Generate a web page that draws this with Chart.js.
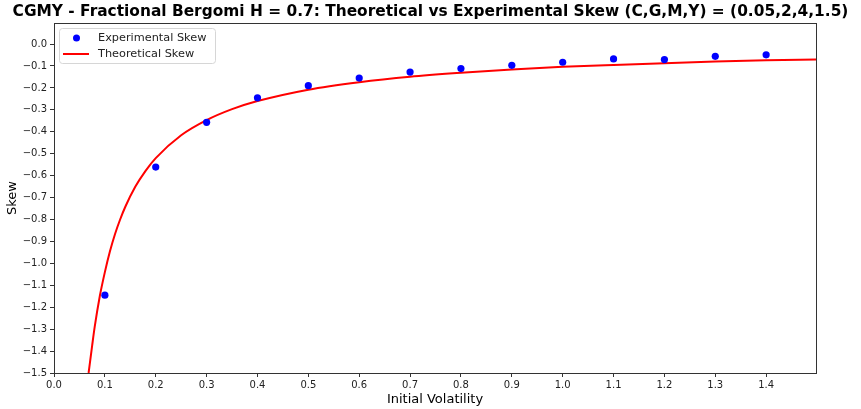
<!DOCTYPE html>
<html>
<head>
<meta charset="utf-8">
<script src="https://cdn.jsdelivr.net/npm/chart.js@4"></script>
<style>
  html, body { margin: 0; padding: 0; background: #fff; }
  #wrap { width: 861px; height: 409px; position: relative; }
</style>
</head>
<body>
<div id="wrap"><canvas id="skewChart" width="861" height="409"></canvas></div>
<script>
// experimental points
const expVol = [0.1, 0.2, 0.3, 0.4, 0.5, 0.6, 0.7, 0.8, 0.9, 1.0, 1.1, 1.2, 1.3, 1.4];
const expSkew = [-1.145, -0.561, -0.357, -0.245, -0.19, -0.155, -0.128, -0.112, -0.097, -0.083, -0.068, -0.071, -0.056, -0.049];

// theoretical curve
const theoVol = [0.068, 0.075, 0.08, 0.09, 0.1, 0.11, 0.12, 0.13, 0.14, 0.16, 0.18, 0.2, 0.25, 0.3, 0.35, 0.4, 0.5, 0.6, 0.7, 0.8, 0.9, 1.0, 1.1, 1.2, 1.3, 1.4, 1.5];
const theoSkew = [-1.5, -1.375, -1.29, -1.15, -1.04, -0.945, -0.866, -0.8, -0.743, -0.65, -0.578, -0.52, -0.416, -0.347, -0.297, -0.26, -0.208, -0.174, -0.149, -0.131, -0.116, -0.104, -0.095, -0.087, -0.08, -0.074, -0.07];

const xTicks = [0.0, 0.1, 0.2, 0.3, 0.4, 0.5, 0.6, 0.7, 0.8, 0.9, 1.0, 1.1, 1.2, 1.3, 1.4];
const yTicks = [-1.5, -1.4, -1.3, -1.2, -1.1, -1.0, -0.9, -0.8, -0.7, -0.6, -0.5, -0.4, -0.3, -0.2, -0.1, 0.0];

const titleText = 'CGMY - Fractional Bergomi H = 0.7: Theoretical vs Experimental Skew (C,G,M,Y) = (0.05,2,4,1.5)';

const FONT = "'DejaVu Sans', sans-serif";

function fmt(v) {
  const s = Math.abs(v).toFixed(1);
  return v < -1e-9 ? '\u2212' + s : s;
}

// box round the plot, title and legend, like matplotlib
const framePlugin = {
  id: 'frame',
  afterDraw(chart) {
    const a = chart.chartArea;
    const c = chart.ctx;
    c.save();
    c.strokeStyle = '#333';
    c.lineWidth = 1;
    c.strokeRect(Math.round(a.left) + 0.5, Math.round(a.top) + 0.5, Math.round(a.right - a.left), Math.round(a.bottom - a.top));

    // title, centred on the figure
    c.fillStyle = '#000';
    c.font = 'bold 15.4px ' + FONT;
    c.textAlign = 'center';
    c.textBaseline = 'middle';
    c.fillText(titleText, 430.5, 12);
    c.textAlign = 'left';

    // legend
    const lx = a.left + 5, ly = a.top + 5, lw = 156, lh = 35;
    c.fillStyle = 'rgba(255,255,255,0.8)';
    c.strokeStyle = '#d6d6d6';
    c.beginPath();
    c.roundRect(lx + 0.5, ly + 0.5, lw, lh, 3);
    c.fill();
    c.stroke();

    c.fillStyle = '#0000ff';
    c.beginPath();
    c.arc(lx + 17.5, ly + 10, 3.5, 0, Math.PI * 2);
    c.fill();

    c.strokeStyle = '#ff0000';
    c.lineWidth = 2;
    c.beginPath();
    c.moveTo(lx + 4, ly + 26);
    c.lineTo(lx + 30, ly + 26);
    c.stroke();

    c.fillStyle = '#222';
    c.font = '11.3px ' + FONT;
    c.textBaseline = 'middle';
    c.fillText('Experimental Skew', lx + 39, ly + 10);
    c.fillText('Theoretical Skew', lx + 39, ly + 26);
    c.restore();
  }
};

const ctx = document.getElementById('skewChart');
new Chart(ctx.getContext('2d'), {
  type: 'scatter',
  data: {
    datasets: [{
      label: 'Experimental Skew',
      data: expVol.map((x, i) => ({ x: x, y: expSkew[i] })),
      backgroundColor: '#0000ff',
      borderColor: '#0000ff',
      pointRadius: 3.6,
      pointBorderWidth: 0,
      order: 1
    }, {
      label: 'Theoretical Skew',
      type: 'line',
      data: theoVol.map((x, i) => ({ x: x, y: theoSkew[i] })),
      borderColor: '#ff0000',
      borderWidth: 2,
      pointRadius: 0,
      fill: false,
      cubicInterpolationMode: 'monotone',
      clip: { left: 0, right: 0, top: 0, bottom: 0 },
      order: 2
    }]
  },
  options: {
    responsive: false,
    animation: false,
    layout: { padding: { left: 0, right: 45, top: 23, bottom: 0 } },
    plugins: {
      legend: { display: false },
      tooltip: { enabled: false },
      title: { display: false }
    },
    scales: {
      x: {
        type: 'linear',
        min: 0,
        max: 1.498,
        afterBuildTicks: function(axis) {
          axis.ticks = xTicks.map(v => ({ value: v }));
        },
        afterFit: function(axis) { axis.height = 36; },
        ticks: {
          color: '#222',
          font: { family: FONT, size: 10 },
          padding: 2,
          maxRotation: 0,
          autoSkip: false,
          callback: v => fmt(v)
        },
        grid: { display: true, drawOnChartArea: false, drawTicks: true, tickLength: 4, color: '#333' },
        border: { display: false },
        title: {
          display: true,
          text: 'Initial Volatility',
          color: '#000',
          font: { family: FONT, size: 13 },
          padding: { top: 0, bottom: 2 }
        }
      },
      y: {
        type: 'linear',
        min: -1.5,
        max: 0.096,
        afterBuildTicks: function(axis) {
          axis.ticks = yTicks.map(v => ({ value: v }));
        },
        afterFit: function(axis) { axis.width = 54; },
        ticks: {
          color: '#222',
          font: { family: FONT, size: 10 },
          padding: 3,
          autoSkip: false,
          callback: v => fmt(v)
        },
        grid: { display: true, drawOnChartArea: false, drawTicks: true, tickLength: 4, color: '#333' },
        border: { display: false },
        title: {
          display: true,
          text: 'Skew',
          color: '#000',
          font: { family: FONT, size: 13 },
          padding: { top: 5, bottom: 0 }
        }
      }
    }
  },
  plugins: [framePlugin]
});
</script>
</body>
</html>
